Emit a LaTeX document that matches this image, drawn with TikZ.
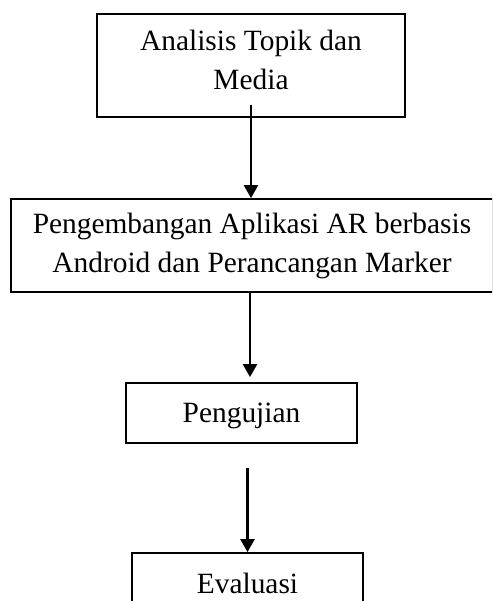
\documentclass[tikz,border=0pt]{standalone}
\usepackage{fontspec}
\setmainfont{Liberation Serif}
\usetikzlibrary{arrows.meta,calc}
\begin{document}
\begin{tikzpicture}[x=1pt,y=-1pt,
  box/.style={draw,line width=1.8pt,inner sep=0pt,align=center,
    font=\fontsize{29.4}{39}\selectfont},
  arr/.style={line width=2.4pt,-{Triangle[length=13pt,width=14pt]}}]
  \useasboundingbox (0,0) rectangle (492,601);
  \clip (0,0) rectangle (492,601);
  % process steps
  \node[box,minimum width=308pt,minimum height=103pt] (b1) at (251,65.5)
    {Analisis Topik dan\\Media\rule[-12pt]{0pt}{12pt}};
  \node[box,minimum width=482pt,minimum height=93pt] (b2) at (252,245.5)
    {Pengembangan Aplikasi AR berbasis\\Android dan Perancangan Marker};
  \node[box,minimum width=231pt,minimum height=60pt] (b3) at (241.5,413)
    {\rule{0pt}{25pt}Pengujian};
  \node[box,minimum width=231pt,minimum height=60pt] (b4) at (247.5,583)
    {Evaluasi};
  % flow arrows
  \draw[arr,shorten <=-13pt] (b1.south) -- (b1.south |- b2.north);
  \draw[arr,shorten >=5pt] ($(b2.south)+(-2,0)$) -- ($(b2.south |- b3.north)+(-2,0)$);
  \draw[arr,shorten <=24pt] (b4.north |- b3.south) -- (b4.north);
\end{tikzpicture}
\end{document}
